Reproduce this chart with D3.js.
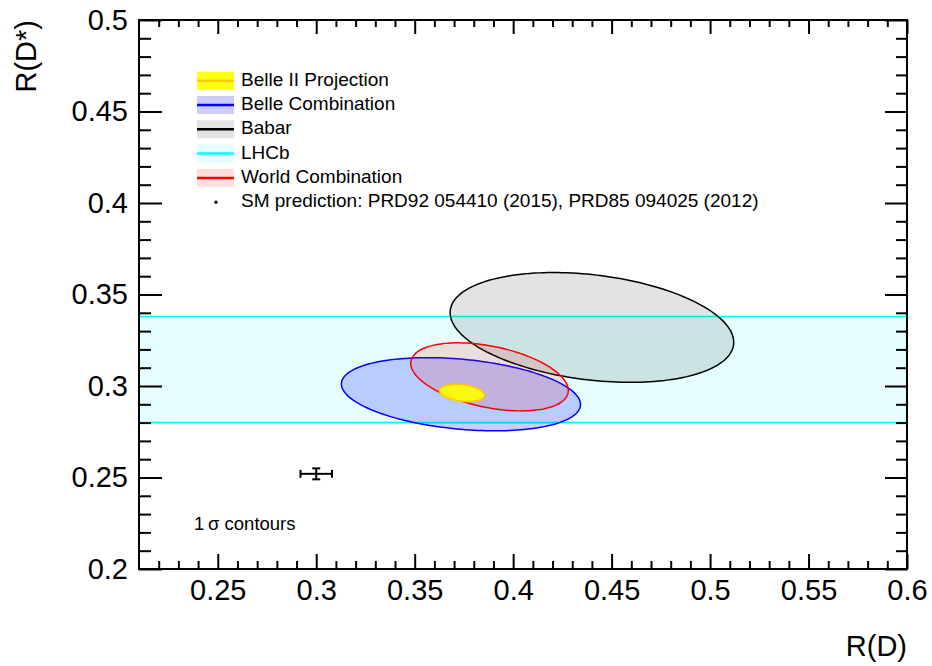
<!DOCTYPE html>
<html>

<head>
  <meta charset="utf-8">
  <title>R(D) vs R(D*)</title>
  <script src="https://d3js.org/d3.v7.min.js"></script>
  <style>
    body {
      margin: 0;
      background: #fff;
    }

    text {
      font-family: 'Liberation Sans', Arial, Helvetica, sans-serif;
      fill: #000;
    }
  </style>
</head>

<body>
  <div id="chart"></div>
  <script>
    // measurements: 1 sigma contours
    const names = ["Belle II Projection", "Belle Combination", "Babar", "LHCb", "World Combination"];
    const rdMean = [0.374, 0.3735, 0.440, null, 0.388];
    const rdSigma = [0.0115, 0.0607, 0.072, null, 0.040];
    const rdsMean = [0.2962, 0.2955, 0.332, 0.309, 0.305];
    const rdsSigma = [0.00475, 0.0200, 0.030, 0.029, 0.0186];
    const rho = [-0.25, -0.28, -0.27, null, -0.40];
    const lineColors = ["#ffc800", "#0000ff", "#000000", "#00ffff", "#ff0000"];
    const fillColors = ["#ffff00", "#0000ff", "#000000", "#00ffff", "#ff0000"];
    const fillAlpha = [0.92, 0.2, 0.11, 0.1, 0.13];

    // SM prediction
    const smLabel = "SM prediction: PRD92 054410 (2015), PRD85 094025 (2012)";
    const smRD = 0.300, smRDerr = 0.008;
    const smRDs = 0.252, smRDserr = 0.003;

    const xTicks = [0.25, 0.3, 0.35, 0.4, 0.45, 0.5, 0.55, 0.6];
    const yTicks = [0.2, 0.25, 0.3, 0.35, 0.4, 0.45, 0.5];

    const W = 932, H = 666;
    const margin = { top: 20, right: 25, bottom: 97, left: 139 };
    const width = W - margin.left - margin.right,
      height = H - margin.top - margin.bottom;

    const svg = d3.select("#chart")
      .append("svg")
      .attr("width", W)
      .attr("height", H);

    const g = svg.append("g")
      .attr("transform", "translate(" + margin.left + "," + margin.top + ")");

    const x = d3.scaleLinear().domain([0.21, 0.6]).range([0, width]);
    const y = d3.scaleLinear().domain([0.2, 0.5]).range([height, 0]);

    const xMinor = d3.range(22, 60).map(d => d / 100).filter(d => Math.round(d * 100) % 5 != 0);
    const yMinor = d3.range(21, 50).map(d => d / 100).filter(d => Math.round(d * 100) % 5 != 0);

    g.append("clipPath").attr("id", "plotclip")
      .append("rect").attr("width", width).attr("height", height);
    const plot = g.append("g").attr("clip-path", "url(#plotclip)");

    // LHCb band (only R(D*))
    const li = 3;
    plot.append("rect")
      .attr("x", 0)
      .attr("width", width)
      .attr("y", y(rdsMean[li] + rdsSigma[li]))
      .attr("height", y(rdsMean[li] - rdsSigma[li]) - y(rdsMean[li] + rdsSigma[li]))
      .attr("fill", fillColors[li])
      .attr("fill-opacity", fillAlpha[li]);
    [rdsMean[li] + rdsSigma[li], rdsMean[li] - rdsSigma[li]].forEach(v => {
      plot.append("line")
        .attr("x1", 0).attr("x2", width)
        .attr("y1", y(v)).attr("y2", y(v))
        .attr("stroke", lineColors[li])
        .attr("stroke-width", 1.6);
    });

    // ellipse outline from mean, sigma and correlation
    const angles = d3.range(0, 2 * Math.PI, Math.PI / 90);
    const ellipse = d3.line()
      .x(d => d[0])
      .y(d => d[1])
      .curve(d3.curveLinearClosed);

    function contour(i) {
      const s = Math.sqrt(1 - rho[i] * rho[i]);
      return angles.map(t => [
        x(rdMean[i] + rdSigma[i] * Math.cos(t)),
        y(rdsMean[i] + rdsSigma[i] * (rho[i] * Math.cos(t) + s * Math.sin(t)))
      ]);
    }

    // draw order: Babar, Belle, World, Belle II
    [2, 1, 4, 0].forEach(i => {
      plot.append("path")
        .attr("d", ellipse(contour(i)))
        .attr("fill", fillColors[i])
        .attr("fill-opacity", fillAlpha[i])
        .attr("stroke", lineColors[i])
        .attr("stroke-width", i == 0 ? 1.6 : 1.5);
    });

    // SM point with error bars
    const sm = plot.append("g").attr("stroke", "#000").attr("stroke-width", 2);
    sm.append("line")
      .attr("x1", x(smRD - smRDerr)).attr("x2", x(smRD + smRDerr))
      .attr("y1", y(smRDs)).attr("y2", y(smRDs));
    sm.append("line")
      .attr("x1", x(smRD)).attr("x2", x(smRD))
      .attr("y1", y(smRDs - smRDserr)).attr("y2", y(smRDs + smRDserr));
    [smRD - smRDerr, smRD + smRDerr].forEach(v => {
      sm.append("line")
        .attr("x1", x(v)).attr("x2", x(v))
        .attr("y1", y(smRDs) - 4).attr("y2", y(smRDs) + 4);
    });
    [smRDs - smRDserr, smRDs + smRDserr].forEach(v => {
      sm.append("line")
        .attr("x1", x(smRD) - 4).attr("x2", x(smRD) + 4)
        .attr("y1", y(v)).attr("y2", y(v));
    });

    // axes (ticks pointing inwards)
    function styleAxis(sel) {
      sel.select(".domain").remove();
      sel.selectAll("line").attr("stroke", "#000").attr("stroke-width", 2);
      sel.selectAll("text").style("font-size", "29px");
    }

    g.append("g")
      .attr("transform", "translate(0," + height + ")")
      .call(d3.axisBottom(x).tickValues(xTicks).tickSize(-15).tickPadding(10).tickFormat(d => String(d)))
      .call(styleAxis);
    g.append("g")
      .attr("transform", "translate(0," + height + ")")
      .call(d3.axisBottom(x).tickValues(xMinor).tickSize(-8).tickFormat(""))
      .call(styleAxis);
    g.append("g")
      .call(d3.axisTop(x).tickValues(xTicks).tickSize(-14).tickFormat(""))
      .call(styleAxis);
    g.append("g")
      .call(d3.axisTop(x).tickValues(xMinor).tickSize(-7).tickFormat(""))
      .call(styleAxis);

    g.append("g")
      .call(d3.axisLeft(y).tickValues(yTicks).tickSize(-23).tickPadding(11).tickFormat(d => String(d)))
      .call(styleAxis);
    g.append("g")
      .call(d3.axisLeft(y).tickValues(yMinor).tickSize(-12).tickFormat(""))
      .call(styleAxis);
    g.append("g")
      .attr("transform", "translate(" + width + ",0)")
      .call(d3.axisRight(y).tickValues(yTicks).tickSize(-22).tickFormat(""))
      .call(styleAxis);
    g.append("g")
      .attr("transform", "translate(" + width + ",0)")
      .call(d3.axisRight(y).tickValues(yMinor).tickSize(-11).tickFormat(""))
      .call(styleAxis);

    g.append("rect")
      .attr("width", width)
      .attr("height", height)
      .attr("fill", "none")
      .attr("stroke", "#000")
      .attr("stroke-width", 2);

    // axis titles
    g.append("text")
      .attr("x", width)
      .attr("y", height + 87)
      .attr("text-anchor", "end")
      .style("font-size", "29px")
      .text("R(D)");
    svg.append("text")
      .attr("transform", "translate(36,20) rotate(-90)")
      .attr("text-anchor", "end")
      .style("font-size", "29px")
      .text("R(D*)");

    // legend
    const legend = svg.append("g").attr("transform", "translate(197,80.7)");
    const rowH = 24.3;
    names.forEach((name, i) => {
      const row = legend.append("g").attr("transform", "translate(0," + (i * rowH) + ")");
      row.append("rect")
        .attr("x", 0).attr("y", -9)
        .attr("width", 37).attr("height", 18)
        .attr("fill", fillColors[i])
        .attr("fill-opacity", fillAlpha[i]);
      row.append("line")
        .attr("x1", 0).attr("x2", 37)
        .attr("y1", 0).attr("y2", 0)
        .attr("stroke", lineColors[i])
        .attr("stroke-width", 2.5);
      row.append("text")
        .attr("x", 44).attr("y", 5)
        .style("font-size", "19px")
        .text(name);
    });
    const smRow = legend.append("g").attr("transform", "translate(0," + (names.length * rowH) + ")");
    smRow.append("circle")
      .attr("cx", 19).attr("cy", 0).attr("r", 1.6)
      .attr("fill", "#000");
    smRow.append("text")
      .attr("x", 44).attr("y", 5)
      .style("font-size", "19px")
      .text(smLabel);

    // contour note
    svg.append("text")
      .attr("x", 194)
      .attr("y", 530)
      .style("font-size", "18.5px")
      .text("1\u2009\u03c3 contours");
  </script>
</body>

</html>
